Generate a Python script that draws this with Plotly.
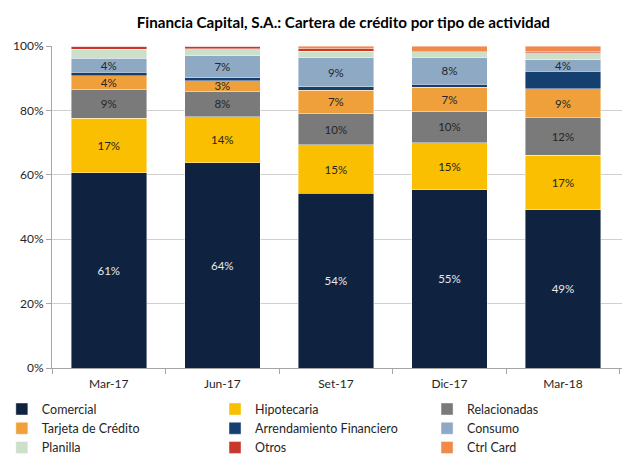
import plotly.graph_objects as go

categories = ["Mar-17", "Jun-17", "Set-17", "Dic-17", "Mar-18"]

comercial = [60.6, 63.7, 54.3, 55.3, 49.1]
hipotecaria = [17.0, 14.4, 15.0, 14.6, 17.0]
relacionadas = [8.9, 7.9, 9.7, 9.9, 11.6]
tarjeta = [4.3, 3.2, 7.3, 7.4, 9.1]
arrendamiento = [1.0, 1.0, 1.1, 1.0, 5.3]
consumo = [4.4, 6.8, 9.0, 8.2, 3.6]
planilla = [2.8, 2.2, 1.9, 1.8, 2.2]
otros = [1.0, 0.8, 0.9, 0.0, 0.3]
ctrl_card = [0.0, 0.0, 0.8, 1.8, 1.8]

y_tick_vals = [0, 20, 40, 60, 80, 100]
y_tick_text = ["0%", "20%", "40%", "60%", "80%", "100%"]

# name, values, colour, show labels, label colour, legend column
series = [
    ("Comercial", comercial, "#0F2341", True, "#E8E8E8", "legend"),
    ("Hipotecaria", hipotecaria, "#F9BF00", True, "#262626", "legend2"),
    ("Relacionadas", relacionadas, "#7A7A7A", True, "#262626", "legend3"),
    ("Tarjeta de Crédito", tarjeta, "#F0A03A", True, "#262626", "legend"),
    ("Arrendamiento Financiero", arrendamiento, "#153F6E", False, "#262626", "legend2"),
    ("Consumo", consumo, "#8EA9C4", True, "#262626", "legend3"),
    ("Planilla", planilla, "#CCDFC9", False, "#262626", "legend"),
    ("Otros", otros, "#C9382A", False, "#262626", "legend2"),
    ("Ctrl Card", ctrl_card, "#F08A4B", False, "#262626", "legend3"),
]

FONT = "Lato"

fig = go.Figure()
for name, vals, color, show_lbl, lblcolor, leg in series:
    fig.add_trace(go.Bar(
        name=name,
        x=categories,
        y=vals,
        legend=leg,
        marker=dict(color=color, line=dict(color="rgba(255,255,255,0.7)", width=0.6)),
        text=[f"{round(v)}%" for v in vals] if show_lbl else None,
        textposition="inside" if show_lbl else "none",
        insidetextanchor="middle",
        constraintext="none",
        textfont=dict(family=FONT, size=11.5, color=lblcolor),
        hoverinfo="skip",
    ))

legend_common = dict(
    orientation="v",
    traceorder="normal",
    yanchor="top",
    y=-0.082,
    xanchor="left",
    font=dict(family=FONT, size=12.5, color="#262626"),
    tracegroupgap=0,
    bgcolor="rgba(0,0,0,0)",
    itemclick=False,
)

fig.update_layout(
    width=622,
    height=454,
    barmode="stack",
    bargap=0.335,
    paper_bgcolor="white",
    plot_bgcolor="white",
    margin=dict(l=52, r=0, t=46, b=86, autoexpand=False),
    font=dict(family=FONT, size=12, color="#262626"),
    title=dict(
        text="<b>Financia Capital, S.A.: Cartera de crédito por tipo de actividad</b>",
        font=dict(family=FONT, size=15.2, color="#000000"),
        x=0.552, xanchor="center", y=0.949, yanchor="middle",
    ),
    showlegend=True,
    legend=dict(legend_common, x=-0.088),
    legend2=dict(legend_common, x=0.286),
    legend3=dict(legend_common, x=0.658),
    xaxis=dict(
        type="category",
        range=[-0.5, 4.52],
        showline=True, linecolor="#A6A6A6", linewidth=1,
        ticks="outside", tickson="boundaries", ticklen=5, tickcolor="#A6A6A6",
        ticklabelstandoff=5,
        tickfont=dict(family=FONT, size=12, color="#262626"),
        showgrid=False,
    ),
    yaxis=dict(
        range=[0, 100],
        tickvals=y_tick_vals,
        ticktext=y_tick_text,
        showline=True, linecolor="#A6A6A6", linewidth=1,
        ticks="outside", ticklen=5, tickcolor="#A6A6A6",
        showgrid=True, gridcolor="#D0D0D0", gridwidth=1,
        tickfont=dict(family=FONT, size=12, color="#262626"),
        zeroline=False,
    ),
)

fig.write_html(
    "out.html",
    config={"displayModeBar": False},
    post_script="document.body.style.margin='0';",
)
